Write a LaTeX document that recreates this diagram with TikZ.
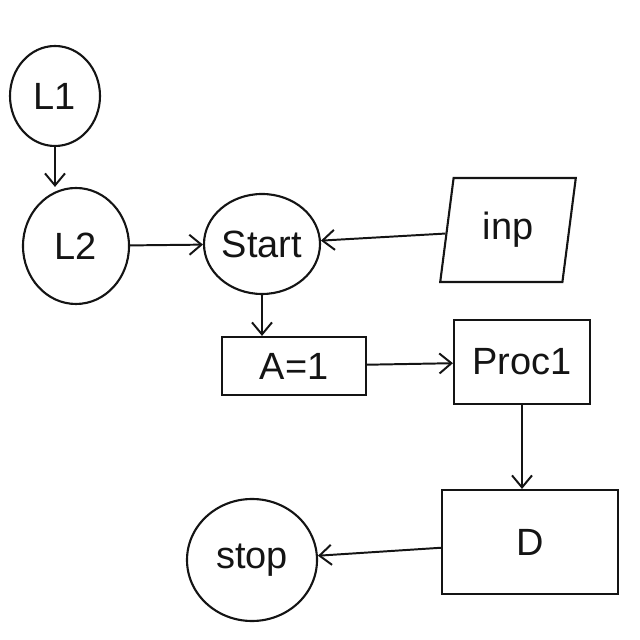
\documentclass[tikz,border=0pt]{standalone}
\usepackage{fontspec}
\setmainfont{Liberation Sans}
\usepackage{tikz}
\usetikzlibrary{shapes.geometric, positioning, arrows.meta}
\definecolor{InkBlack}{RGB}{20,20,20}

\begin{document}
\begin{tikzpicture}[
    every node/.style={font=\fontsize{27}{30}\selectfont, InkBlack},
    roundnode/.style={draw, ellipse, line width=1.5pt, inner sep=0pt},
    boxnode/.style={draw, rectangle, line width=1.5pt, inner sep=0pt},
    slantbox/.style={draw, trapezium, trapezium left angle=80,
                     trapezium right angle=100, line width=1.5pt,
                     inner sep=0pt, trapezium stretches=true},
    flow/.style={-{Straight Barb[length=3mm, width=5mm]}, line width=1.4pt,
                 InkBlack}]
  \useasboundingbox (0,0) rectangle (16,16);
  % round nodes
  \node[roundnode, minimum width=2.25cm, minimum height=2.5cm]
        (l1) at (1.375, 13.6) {L1};
  \node[roundnode, minimum width=2.65cm, minimum height=2.9cm]
        (l2) at (1.9, 9.85) {L2};
  \node[roundnode, minimum width=2.9cm, minimum height=2.5cm]
        (start) at (6.55, 9.9) {Start};
  \node[roundnode, minimum width=3.25cm, minimum height=3.05cm]
        (stop) at (6.3, 2.0) {stop};
  % boxes
  \node[slantbox, minimum width=3.4cm, minimum height=2.6cm]
        (inp) at (12.7, 10.25) {inp};
  \node[boxnode, minimum width=3.6cm, minimum height=1.45cm]
        (a1) at (7.35, 6.85) {A=1};
  \node[boxnode, minimum width=3.4cm, minimum height=2.1cm]
        (proc) at (13.05, 6.95) {Proc1};
  \node[boxnode, minimum width=4.4cm, minimum height=2.6cm]
        (dbox) at (13.25, 2.45) {D};
  % connectors
  \draw[flow] (l1.south) -- (l1.south |- l2.north);
  \draw[flow] (l2) -- (start);
  \draw[flow] (inp) -- (start);
  \draw[flow] (start.south) -- (start.south |- a1.north);
  \draw[flow] (a1) -- (proc);
  \draw[flow] (proc.south) -- (proc.south |- dbox.north);
  \draw[flow] (dbox) -- (stop);
\end{tikzpicture}
\end{document}
